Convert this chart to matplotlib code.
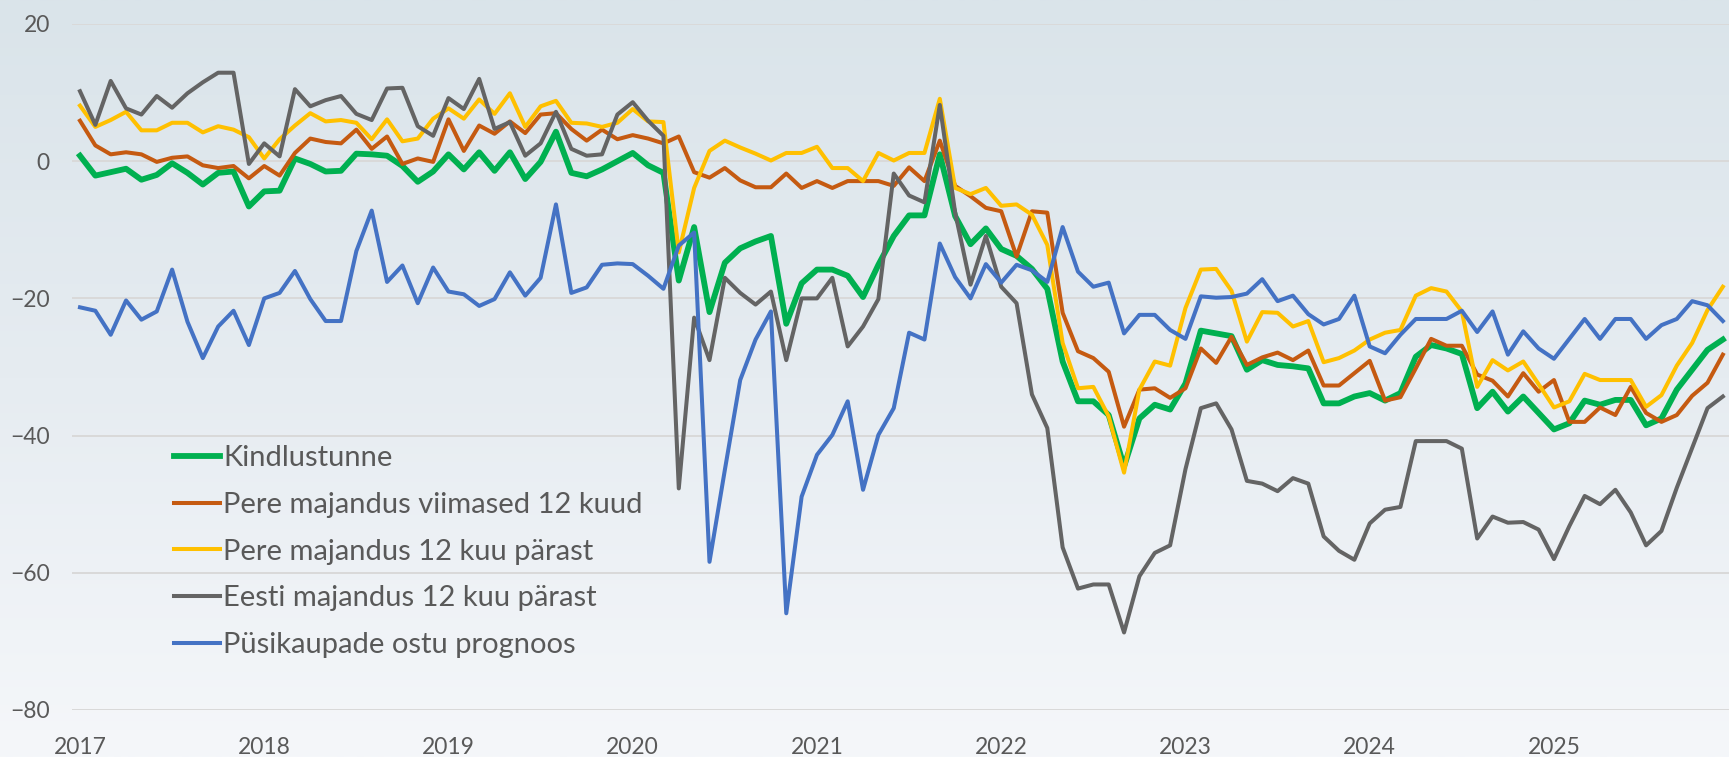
import numpy as np
import matplotlib
matplotlib.use('Agg')
import matplotlib.pyplot as plt
from matplotlib.colors import LinearSegmentedColormap

# Monthly values, 2017-01 .. 2025-12
kindlustunne = [0.8, -2.1, -1.6, -1.1, -2.7, -2.0, -0.3, -1.7, -3.4, -1.7, -1.5, -6.6,
                -4.4, -4.3, 0.4, -0.4, -1.5, -1.4, 1.1, 1.0, 0.8, -0.7, -3.0, -1.5,
                1.0, -1.2, 1.3, -1.4, 1.3, -2.6, -0.1, 4.3, -1.7, -2.2, -1.2, 0.0,
                1.2, -0.6, -1.7, -17.4, -9.6, -22.0, -14.8, -12.7, -11.7, -10.9, -23.7, -17.8,
                -15.8, -15.8, -16.7, -19.8, -15.1, -10.9, -7.9, -7.9, 1.0, -8.0, -12.1, -9.8,
                -12.8, -13.8, -15.7, -18.6, -29.2, -35.0, -35.0, -37.0, -44.5, -37.5, -35.5, -36.2,
                -32.4, -24.7, -25.1, -25.5, -30.4, -29.0, -29.7, -29.9, -30.2, -35.3, -35.3, -34.3,
                -33.8, -34.9, -33.8, -28.5, -26.8, -27.3, -28.1, -36.0, -33.6, -36.5, -34.3, -36.7,
                -39.1, -38.2, -34.9, -35.5, -34.8, -34.8, -38.5, -37.5, -33.3, -30.4, -27.5, -26.0]

pere_viimased = [5.9, 2.3, 1.0, 1.3, 1.0, -0.1, 0.5, 0.7, -0.6, -1.0, -0.7, -2.5,
                 -0.7, -2.1, 1.2, 3.3, 2.8, 2.6, 4.6, 1.8, 3.6, -0.4, 0.4, -0.1,
                 6.1, 1.5, 5.2, 4.0, 5.8, 4.1, 6.8, 7.0, 4.7, 3.0, 4.6, 3.2,
                 3.8, 3.3, 2.6, 3.6, -1.6, -2.4, -1.0, -2.8, -3.8, -3.8, -1.8, -3.9,
                 -2.9, -3.9, -2.9, -2.9, -2.9, -3.6, -0.9, -2.9, 3.0, -3.6, -5.1, -6.8,
                 -7.3, -13.9, -7.3, -7.5, -22.1, -27.7, -28.7, -30.7, -38.7, -33.3, -33.1, -34.5,
                 -33.1, -27.3, -29.4, -25.6, -29.7, -28.6, -27.9, -29.0, -27.6, -32.7, -32.7, -30.9,
                 -29.1, -34.9, -34.4, -30.2, -25.9, -26.9, -26.9, -31.1, -32.0, -34.3, -30.9, -33.6,
                 -31.9, -38.0, -38.0, -35.9, -37.0, -32.9, -36.7, -38.0, -37.0, -34.2, -32.3, -28.2]

pere_parast = [8.1, 5.0, 6.0, 7.2, 4.5, 4.5, 5.6, 5.6, 4.2, 5.1, 4.6, 3.5,
               0.4, 3.2, 5.2, 7.0, 5.8, 6.0, 5.6, 3.2, 6.1, 2.9, 3.3, 6.2,
               7.7, 6.2, 9.0, 6.9, 9.9, 5.0, 8.0, 8.8, 5.6, 5.5, 5.0, 5.6,
               7.6, 5.8, 5.7, -13.3, -3.9, 1.5, 3.0, 2.0, 1.1, 0.1, 1.2, 1.2,
               2.1, -1.0, -1.0, -2.9, 1.2, 0.1, 1.2, 1.2, 9.1, -3.9, -4.8, -3.9,
               -6.5, -6.3, -7.8, -12.2, -26.5, -33.1, -32.9, -37.2, -45.4, -33.3, -29.2, -29.8,
               -21.4, -15.8, -15.7, -18.9, -26.3, -22.0, -22.1, -24.1, -23.3, -29.3, -28.7, -27.6,
               -26.0, -25.0, -24.6, -19.6, -18.5, -19.0, -21.9, -32.9, -29.0, -30.5, -29.2, -32.5,
               -35.9, -35.0, -31.0, -31.9, -31.9, -31.9, -35.8, -34.1, -29.8, -26.5, -21.7, -18.3]

eesti_parast = [10.2, 5.3, 11.7, 7.7, 6.8, 9.5, 7.8, 9.9, 11.5, 12.9, 12.9, -0.4,
                2.6, 0.7, 10.5, 8.0, 8.9, 9.5, 6.9, 6.0, 10.6, 10.7, 5.1, 3.7,
                9.2, 7.6, 12.0, 4.7, 5.7, 0.8, 2.6, 7.2, 1.8, 0.8, 1.0, 6.8,
                8.6, 5.9, 3.7, -47.7, -22.8, -29.0, -17.0, -19.2, -20.9, -19.0, -29.0, -20.0,
                -20.0, -17.0, -27.0, -24.1, -20.1, -1.8, -5.0, -6.0, 8.2, -7.5, -18.0, -10.9,
                -18.3, -20.7, -34.0, -38.9, -56.3, -62.3, -61.7, -61.7, -68.7, -60.5, -57.1, -56.0,
                -44.9, -36.0, -35.3, -39.1, -46.6, -47.0, -48.1, -46.2, -47.0, -54.7, -56.8, -58.1,
                -52.8, -50.8, -50.4, -40.8, -40.8, -40.8, -41.9, -55.0, -51.8, -52.7, -52.6, -53.7,
                -58.0, -53.2, -48.8, -50.0, -47.9, -51.2, -56.0, -53.9, -47.6, -41.8, -36.0, -34.3]

pusikaubad = [-21.3, -21.8, -25.3, -20.3, -23.1, -21.9, -15.8, -23.4, -28.7, -24.1, -21.8, -26.8,
              -20.0, -19.2, -16.0, -20.1, -23.3, -23.3, -13.1, -7.2, -17.6, -15.2, -20.7, -15.5,
              -19.0, -19.4, -21.1, -20.1, -16.2, -19.6, -17.0, -6.3, -19.2, -18.4, -15.1, -14.9,
              -15.0, -16.7, -18.6, -12.3, -10.4, -58.4, -45.0, -31.9, -26.0, -21.9, -65.9, -48.9,
              -42.8, -39.9, -35.0, -47.9, -39.9, -36.0, -25.0, -26.0, -12.0, -16.9, -20.0, -15.0,
              -17.7, -15.1, -15.9, -17.6, -9.6, -16.1, -18.3, -17.7, -25.1, -22.4, -22.4, -24.6,
              -25.9, -19.7, -19.9, -19.8, -19.3, -17.2, -20.4, -19.6, -22.3, -23.8, -23.0, -19.6,
              -27.0, -28.0, -25.3, -23.0, -23.0, -23.0, -21.8, -24.9, -21.9, -28.2, -24.8, -27.3,
              -28.8, -25.9, -23.0, -25.9, -23.0, -23.0, -25.9, -23.9, -23.0, -20.4, -21.0, -23.3]

labels = ['Kindlustunne', 'Pere majandus viimased 12 kuud', 'Pere majandus 12 kuu pärast',
          'Eesti majandus 12 kuu pärast', 'Püsikaupade ostu prognoos']
years = [2017, 2018, 2019, 2020, 2021, 2022, 2023, 2024, 2025]

series = [kindlustunne, pere_viimased, pere_parast, eesti_parast, pusikaubad]
colors = ['#00B050', '#C55A11', '#FFC000', '#646464', '#4472C4']
widths = [4.2, 2.9, 2.9, 2.9, 2.9]

plt.rcParams['font.family'] = ['Lato', 'DejaVu Sans']

fig = plt.figure(figsize=(17.29, 7.57), dpi=100)

# gradient background over the whole chart
bg = fig.add_axes([0, 0, 1, 1], zorder=0)
grad = np.linspace(0, 1, 256).reshape(-1, 1)
cmap = LinearSegmentedColormap.from_list('bg', ['#dae4ea', '#e6ecf1', '#f5f7fa'])
bg.imshow(grad, aspect='auto', cmap=cmap, extent=[0, 1, 0, 1], origin='upper')
bg.axis('off')

ax = fig.add_axes([72 / 1729, 47 / 757, 1657 / 1729, 686 / 757], zorder=1)
ax.patch.set_alpha(0)

months = np.arange(len(kindlustunne))
for vals, lab, col, lw in zip(series, labels, colors, widths):
    ax.plot(months, vals, color=col, lw=lw, label=lab, solid_joinstyle='round')

ax.set_ylim(-80, 20)
ax.set_xlim(-0.52, 107.4)
ax.set_yticks(range(-80, 21, 20))
ax.set_xticks([(y - 2017) * 12 for y in years])
ax.set_xticklabels([str(y) for y in years])
ax.grid(axis='y', color='#d9d9d9', lw=1.4)
ax.set_axisbelow(True)
for s in ax.spines.values():
    s.set_visible(False)
ax.tick_params(axis='both', length=0, labelsize=16.5, labelcolor='#595959')
ax.tick_params(axis='y', pad=16)
ax.tick_params(axis='x', pad=19.5)

leg = ax.legend(loc='upper left', bbox_to_anchor=(0.0616, 0.386), frameon=False,
                fontsize=21, handlelength=1.56, handletextpad=0.12,
                labelspacing=0.71, borderaxespad=0, borderpad=0)
for t in leg.get_texts():
    t.set_color('#595959')

plt.savefig('out.png', dpi=100)
